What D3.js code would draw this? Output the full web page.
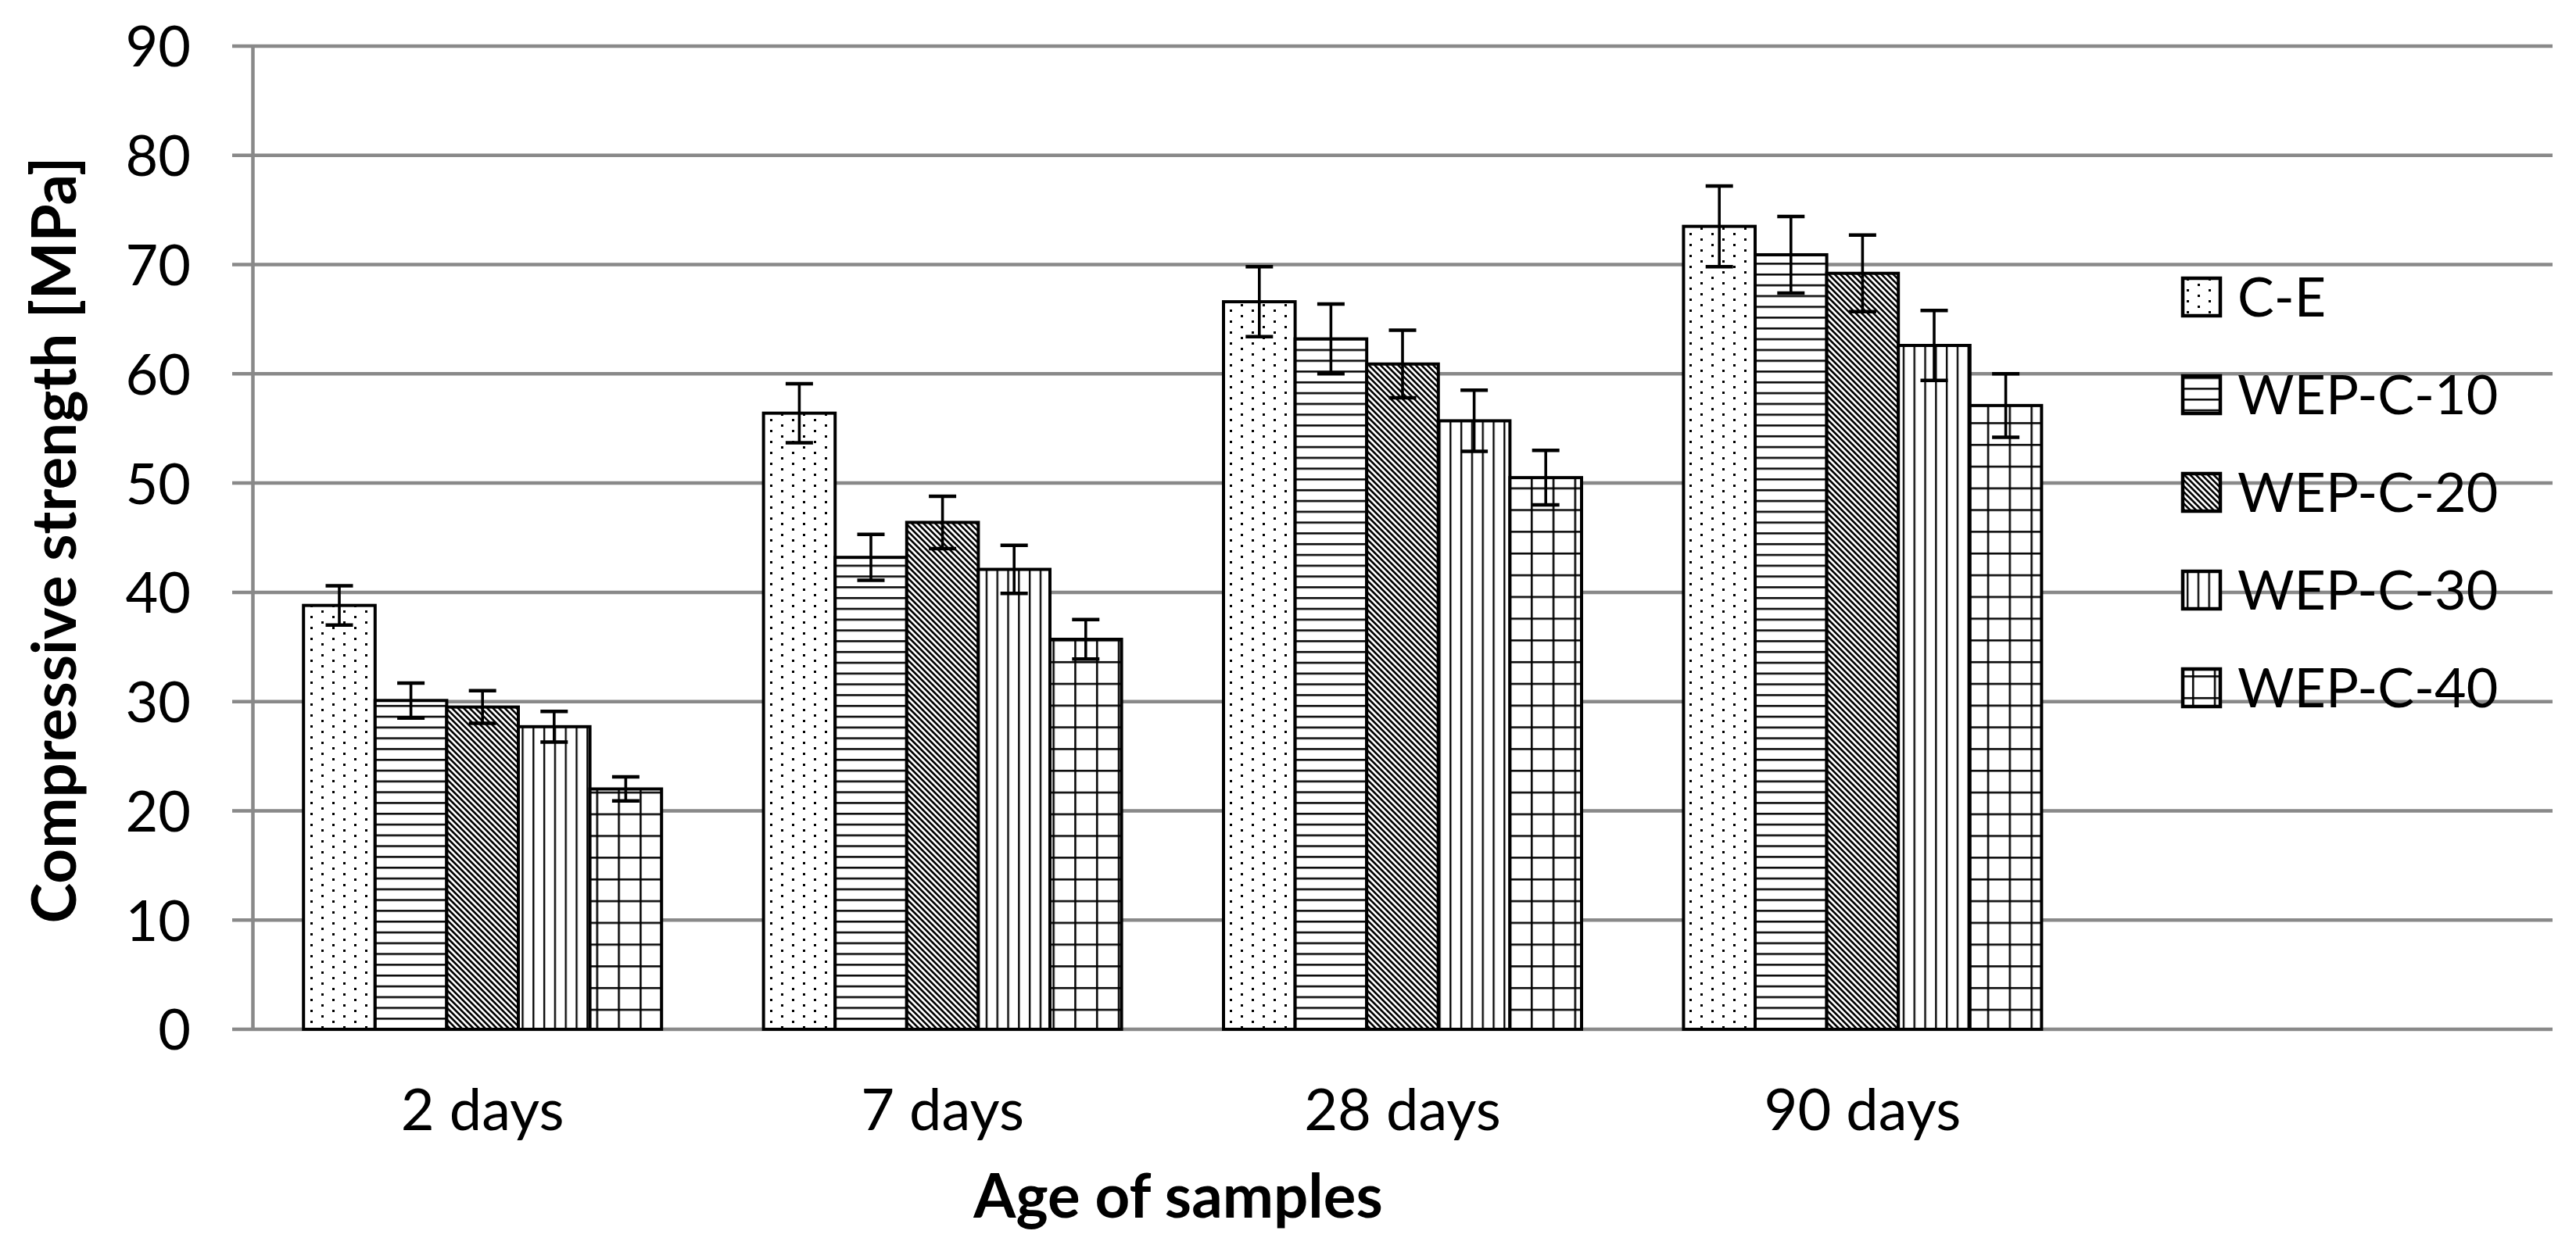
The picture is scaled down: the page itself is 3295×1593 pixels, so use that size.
<!DOCTYPE html>
<html>
<head>
<meta charset="utf-8">
<script src="https://cdn.jsdelivr.net/npm/d3@7"></script>
<style>
  body { margin: 0; background: #fff; }
  text { font-family: Lato, "Open Sans", sans-serif; fill: #000; }
</style>
</head>
<body>
<div id="chart"></div>
<script>
// data
const ages = ["2 days", "7 days", "28 days", "90 days"];
const series = ["C-E", "WEP-C-10", "WEP-C-20", "WEP-C-30", "WEP-C-40"];
const valCE = [38.8, 56.4, 66.6, 73.5];
const valW10 = [30.1, 43.2, 63.2, 70.9];
const valW20 = [29.5, 46.4, 60.9, 69.2];
const valW30 = [27.7, 42.1, 55.7, 62.6];
const valW40 = [22.0, 35.7, 50.5, 57.1];
const errCE = [1.8, 2.7, 3.2, 3.7];
const errW10 = [1.6, 2.1, 3.2, 3.5];
const errW20 = [1.5, 2.4, 3.1, 3.5];
const errW30 = [1.4, 2.2, 2.8, 3.2];
const errW40 = [1.1, 1.8, 2.5, 2.9];
const yTicks = [0, 10, 20, 30, 40, 50, 60, 70, 80, 90];

const values = [valCE, valW10, valW20, valW30, valW40];
const errors = [errCE, errW10, errW20, errW30, errW40];

const W = 3295, H = 1593;
const plotLeft = 323, plotRight = 3265, plotTop = 59, plotBottom = 1317;
const grid = "#898989";

const svg = d3.select("#chart").append("svg")
    .attr("width", W)
    .attr("height", H);
svg.append("rect").attr("width", W).attr("height", H).attr("fill", "#fff");

// fill patterns (one per series)
const defs = svg.append("defs");
function pattern(id, w, h, draw, transform) {
    const p = defs.append("pattern")
        .attr("id", id)
        .attr("patternUnits", "userSpaceOnUse")
        .attr("width", w)
        .attr("height", h);
    if (transform) p.attr("patternTransform", transform);
    p.append("rect").attr("width", w).attr("height", h).attr("fill", "#fff");
    draw(p);
}
// dotted
pattern("p0", 28, 14, p => {
    p.append("rect").attr("x", 5).attr("y", 4).attr("width", 3).attr("height", 3).attr("fill", "#000");
    p.append("rect").attr("x", 19).attr("y", 11).attr("width", 3).attr("height", 3).attr("fill", "#000");
});
// horizontal lines
pattern("p1", 13.8, 13.8, p => {
    p.append("rect").attr("x", 0).attr("y", 5).attr("width", 13.8).attr("height", 2.5).attr("fill", "#000");
});
// dark downward diagonal
pattern("p2", 5.3, 5.3, p => {
    p.append("rect").attr("x", 0).attr("y", 0).attr("width", 2.6).attr("height", 5.3).attr("fill", "#000");
}, "rotate(-45)");
// vertical lines
pattern("p3", 13.8, 13.8, p => {
    p.append("rect").attr("x", 5).attr("y", 0).attr("width", 2.3).attr("height", 13.8).attr("fill", "#000");
});
// large grid
pattern("p4", 27.8, 27.8, p => {
    p.append("rect").attr("x", 0).attr("y", 12).attr("width", 27.8).attr("height", 2.5).attr("fill", "#000");
    p.append("rect").attr("x", 12).attr("y", 0).attr("width", 2.5).attr("height", 27.8).attr("fill", "#000");
});

// scales: the plot area holds one spare empty slot on the right (legend sits there)
const slots = ages.concat(["_spare"]);
const x = d3.scaleBand().domain(slots).range([plotLeft, plotRight]).padding(0);
const xs = d3.scaleBand().domain(series).range([0, x.bandwidth()]).paddingInner(0).paddingOuter(0.712);
const y = d3.scaleLinear().domain([0, 90]).range([plotBottom, plotTop]);

// gridlines
svg.append("g").selectAll("line")
    .data(yTicks)
    .enter().append("line")
    .attr("x1", plotLeft - 26)
    .attr("x2", plotRight)
    .attr("y1", d => y(d))
    .attr("y2", d => y(d))
    .attr("stroke", grid)
    .attr("stroke-width", 4.5);

// y axis
const yAxis = svg.append("g")
    .attr("transform", "translate(" + plotLeft + ",0)")
    .call(d3.axisLeft(y).tickValues(yTicks).tickSize(0).tickPadding(79));
yAxis.select(".domain").attr("stroke", grid).attr("stroke-width", 4.5);
yAxis.selectAll("text").style("font-size", "72px").attr("dy", "0.36em");

// x axis labels
const xAxis = svg.append("g")
    .attr("transform", "translate(0," + plotBottom + ")")
    .call(d3.axisBottom(x).tickValues(ages).tickSize(0).tickPadding(76));
xAxis.select(".domain").remove();
xAxis.selectAll("text").style("font-size", "74px");

// bars
const groups = svg.append("g").selectAll("g")
    .data(series)
    .enter().append("g");

groups.selectAll("rect")
    .data((s, i) => values[i].map((v, j) => ({ s: s, i: i, age: ages[j], v: v, e: errors[i][j] })))
    .enter().append("rect")
    .attr("x", d => x(d.age) + xs(d.s))
    .attr("y", d => y(d.v))
    .attr("width", xs.bandwidth())
    .attr("height", d => y(0) - y(d.v))
    .attr("fill", d => "url(#p" + d.i + ")")
    .attr("stroke", "#000")
    .attr("stroke-width", 4);

// error bars
const eb = svg.append("g").selectAll("g")
    .data(series.flatMap((s, i) => values[i].map((v, j) => ({ s: s, age: ages[j], v: v, e: errors[i][j] }))))
    .enter().append("g")
    .attr("stroke", "#000");
eb.append("line")
    .attr("x1", d => x(d.age) + xs(d.s) + xs.bandwidth() / 2)
    .attr("x2", d => x(d.age) + xs(d.s) + xs.bandwidth() / 2)
    .attr("y1", d => y(d.v + d.e))
    .attr("y2", d => y(d.v - d.e))
    .attr("stroke-width", 3.6);
eb.selectAll(".cap")
    .data(d => [d.v + d.e, d.v - d.e].map(c => ({ c: c, cx: x(d.age) + xs(d.s) + xs.bandwidth() / 2 })))
    .enter().append("line")
    .attr("class", "cap")
    .attr("x1", d => d.cx - 17.5)
    .attr("x2", d => d.cx + 17.5)
    .attr("y1", d => y(d.c))
    .attr("y2", d => y(d.c))
    .attr("stroke-width", 4.5);

// axis titles
svg.append("text")
    .attr("x", 1507)
    .attr("y", 1558)
    .attr("text-anchor", "middle")
    .style("font-size", "78px")
    .style("font-weight", "bold")
    .text("Age of samples");

svg.append("text")
    .attr("transform", "translate(97,691) rotate(-90)")
    .attr("text-anchor", "middle")
    .style("font-size", "78px")
    .style("font-weight", "bold")
    .text("Compressive strength [MPa]");

// legend
const legend = svg.append("g").selectAll("g")
    .data(series)
    .enter().append("g")
    .attr("transform", (d, i) => "translate(2792," + (380 + i * 125) + ")");
legend.append("rect")
    .attr("x", 0)
    .attr("y", -24)
    .attr("width", 48)
    .attr("height", 48)
    .attr("fill", (d, i) => "url(#p" + i + ")")
    .attr("stroke", "#000")
    .attr("stroke-width", 4.5);
legend.append("text")
    .attr("x", 70)
    .attr("dy", "0.36em")
    .style("font-size", "70px")
    .text(d => d);
</script>
</body>
</html>
